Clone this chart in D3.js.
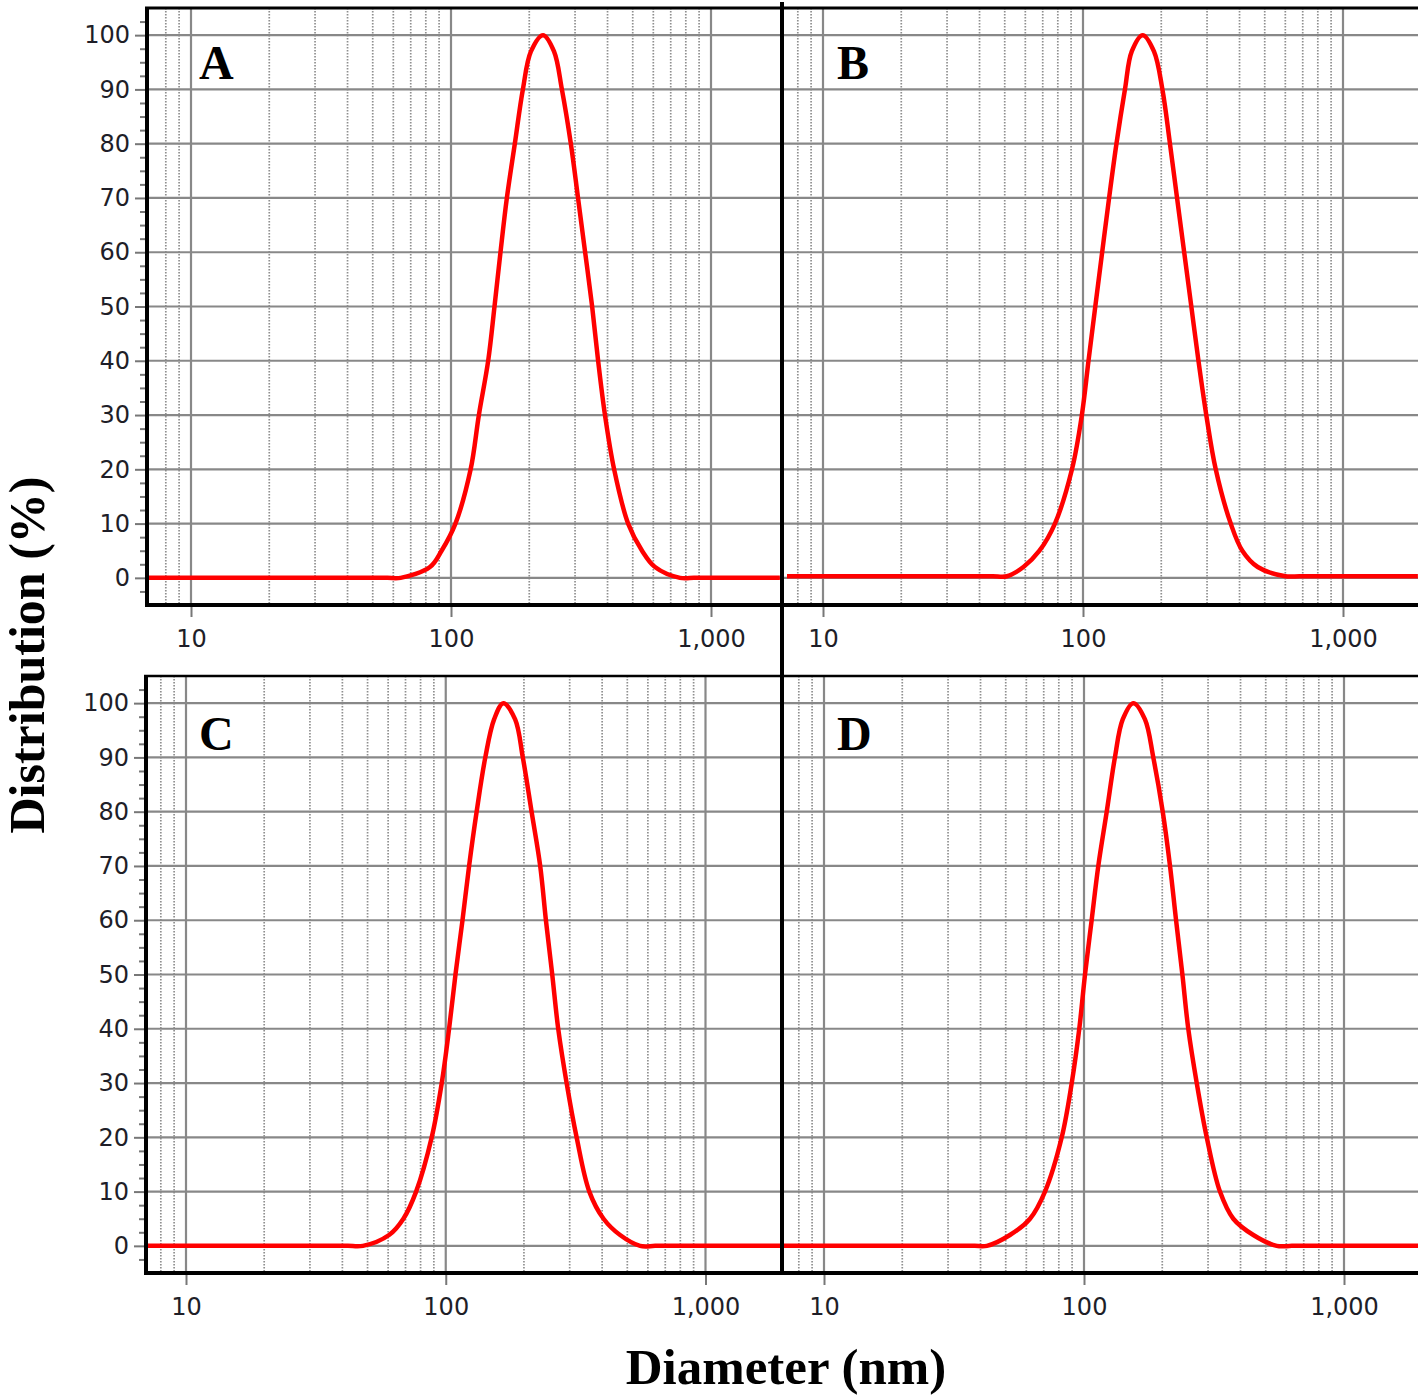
<!DOCTYPE html>
<html>
<head>
<meta charset="utf-8">
<script src="https://cdn.jsdelivr.net/npm/d3@7"></script>
<style>
  html, body { margin: 0; padding: 0; background: #fff; }
  svg { display: block; }
</style>
</head>
<body>
<svg id="chart" width="1418" height="1400"></svg>
<script>
// ---------------- DATA ----------------
const panelNames = ["A", "B", "C", "D"];

const diamA = [6.8, 12, 20, 30, 40, 50, 57, 64, 83, 92, 104, 119, 128, 139, 147, 155, 164, 176, 189, 203, 226, 249, 267, 289, 308, 328, 349, 368, 391, 424, 480, 543, 609, 760, 860, 980, 1150, 1400, 1840];
const distA = [0, 0, 0, 0, 0, 0, 0, 0, 2, 5, 10, 20, 30, 40, 50, 60, 70, 80, 90, 97, 100, 97, 90, 80, 70, 60, 50, 40, 30, 20, 10, 5, 2, 0, 0, 0, 0, 0, 0];

const diamB = [7.27, 12, 20, 30, 38, 45, 51, 59, 68, 78, 90.7, 99, 105, 111.5, 118.5, 126, 134.5, 145, 154, 169.7, 187.5, 202, 216, 230, 245, 261, 278, 298, 324, 370, 410, 470, 600, 680, 780, 950, 1250, 1941];
const distB = [0.3, 0.3, 0.3, 0.3, 0.3, 0.3, 0.3, 2, 5, 10, 20, 30, 40, 50, 60, 70, 80, 90, 97, 100, 97, 90, 80, 70, 60, 50, 40, 30, 20, 10, 5, 2, 0.3, 0.3, 0.3, 0.3, 0.3, 0.3];

const diamC = [7.08, 12, 20, 28, 36, 42, 48, 60.5, 68.7, 76.9, 88.3, 96.5, 103, 109, 116, 123, 131.5, 142, 153.5, 166.7, 185, 198, 214, 231, 243, 257, 271, 292, 319, 357, 405, 469, 560, 640, 740, 900, 1200, 1937];
const distC = [0, 0, 0, 0, 0, 0, 0, 2, 5, 10, 20, 30, 40, 50, 60, 70, 80, 90, 97, 100, 97, 90, 80, 70, 60, 50, 40, 30, 20, 10, 5, 2, 0, 0, 0, 0, 0, 0];

const diamD = [6.95, 12, 18, 25, 32, 38, 42.3, 51.9, 62, 70.8, 82.1, 89.7, 95.9, 100.9, 107, 113.5, 122.3, 131.5, 140.9, 154.8, 171.6, 184.7, 200.8, 214.2, 226, 239, 251.8, 271.4, 296.5, 333.4, 375.2, 448, 551, 630, 730, 880, 1150, 1928];
const distD = [0, 0, 0, 0, 0, 0, 0, 2, 5, 10, 20, 30, 40, 50, 60, 70, 80, 90, 97, 100, 97, 90, 80, 70, 60, 50, 40, 30, 20, 10, 5, 2, 0, 0, 0, 0, 0, 0];

const yTicks = [0, 10, 20, 30, 40, 50, 60, 70, 80, 90, 100];
const yMinorTicks = [-2.5, 2.5, 5, 7.5, 12.5, 15, 17.5, 22.5, 25, 27.5, 32.5, 35, 37.5, 42.5, 45, 47.5, 52.5, 55, 57.5, 62.5, 65, 67.5, 72.5, 75, 77.5, 82.5, 85, 87.5, 92.5, 95, 97.5, 102.5];
const xTicks = [10, 100, 1000];
const xTickLabels = ["10", "100", "1,000"];
const xMinorGrid = [8, 9, 20, 30, 40, 50, 60, 70, 80, 90, 200, 300, 400, 500, 600, 700, 800, 900];
const yTitle = "Distribution (%)";
const xTitle = "Diameter (nm)";

// ---------------- LAYOUT ----------------
const series = { A: [diamA, distA], B: [diamB, distB], C: [diamC, distC], D: [diamD, distD] };
const layout = {
  A: { x0: 147, x1: 780, y0: 8,   y1: 605,  x10: 191, x1000: 711,   yAxis: true,  lx: 199, ly: 79 },
  B: { x0: 783, x1: 1418, y0: 8,  y1: 605,  x10: 823, x1000: 1343,  yAxis: false, lx: 837, ly: 79 },
  C: { x0: 146, x1: 780, y0: 676, y1: 1273, x10: 186, x1000: 705.5, yAxis: true,  lx: 199, ly: 750 },
  D: { x0: 783, x1: 1418, y0: 676, y1: 1273, x10: 824, x1000: 1344, yAxis: false, lx: 837, ly: 750 }
};

const svg = d3.select("#chart");
const defs = svg.append("defs");
const gridColor = "#888";

panelNames.forEach(name => {
  const L = layout[name];
  const x = d3.scaleLog().domain([10, 1000]).range([L.x10, L.x1000]);
  const y = d3.scaleLinear().domain([-5, 105]).range([L.y1, L.y0]);
  const g = svg.append("g").attr("class", "panel-" + name);

  defs.append("clipPath").attr("id", "clip-" + name)
    .append("rect").attr("x", L.x0).attr("y", L.y0).attr("width", L.x1 - L.x0).attr("height", L.y1 - L.y0);

  // minor vertical grid (dotted)
  g.append("g").selectAll("line")
    .data(xMinorGrid.filter(v => x(v) > L.x0 + 5 && x(v) < L.x1 - 2))
    .join("line")
    .attr("x1", d => x(d)).attr("x2", d => x(d))
    .attr("y1", L.y0).attr("y2", L.y1)
    .attr("stroke", "#8f8f8f").attr("stroke-width", 1.7)
    .attr("stroke-dasharray", "1.5,1.5");

  // major vertical grid
  g.append("g").selectAll("line")
    .data(xTicks.filter(v => x(v) > L.x0 + 5 && x(v) < L.x1 - 2))
    .join("line")
    .attr("x1", d => x(d)).attr("x2", d => x(d))
    .attr("y1", L.y0).attr("y2", L.y1)
    .attr("stroke", gridColor).attr("stroke-width", 2.2);

  // horizontal grid
  g.append("g").selectAll("line")
    .data(yTicks)
    .join("line")
    .attr("x1", L.x0).attr("x2", L.x1)
    .attr("y1", d => y(d)).attr("y2", d => y(d))
    .attr("stroke", gridColor).attr("stroke-width", 2.2);

  // curve
  const [dx, dy] = series[name];
  const pts = dx.map((d, i) => [d, dy[i]]);
  const line = d3.line().x(d => x(d[0])).y(d => y(d[1])).curve(d3.curveCatmullRom.alpha(0.5));
  g.append("path")
    .datum(pts)
    .attr("clip-path", "url(#clip-" + name + ")")
    .attr("d", line)
    .attr("fill", "none")
    .attr("stroke", "#ff0000")
    .attr("stroke-width", 4.5)
    .attr("stroke-linejoin", "round");

  // y axis (labels + ticks)
  if (L.yAxis) {
    const ya = g.append("g").attr("transform", `translate(${L.x0},0)`)
      .call(d3.axisLeft(y).tickValues(yTicks).tickSize(12).tickPadding(5).tickFormat(d3.format("d")));
    ya.select(".domain").remove();
    ya.selectAll("line").attr("stroke", "#777").attr("stroke-width", 2);
    ya.selectAll("text").attr("font-family", "'DejaVu Sans', sans-serif").attr("font-size", 24).attr("fill", "#1e1e28");
    const ym = g.append("g").attr("transform", `translate(${L.x0},0)`)
      .call(d3.axisLeft(y).tickValues(yMinorTicks).tickSize(7).tickFormat(""));
    ym.select(".domain").remove();
    ym.selectAll("line").attr("stroke", "#777").attr("stroke-width", 2);
  }

  // x axis
  const xa = g.append("g").attr("transform", `translate(0,${L.y1})`)
    .call(d3.axisBottom(x).tickValues(xTicks).tickSize(12).tickPadding(13).tickFormat((d, i) => xTickLabels[i]));
  xa.select(".domain").remove();
  xa.selectAll("line").attr("stroke", "#777").attr("stroke-width", 2);
  xa.selectAll("text").attr("font-family", "'DejaVu Sans', sans-serif").attr("font-size", 24).attr("fill", "#1e1e28");

  // borders
  g.append("line").attr("x1", L.x0 - 2).attr("x2", L.x1 + 2).attr("y1", L.y0).attr("y2", L.y0)
    .attr("stroke", "#000").attr("stroke-width", name === "A" || name === "B" ? 3 : 2.5);
  g.append("line").attr("x1", L.x0 - 2).attr("x2", L.x1 + 2).attr("y1", L.y1).attr("y2", L.y1)
    .attr("stroke", "#000").attr("stroke-width", 4);
  if (L.yAxis) {
    g.append("line").attr("x1", L.x0).attr("x2", L.x0).attr("y1", L.y0 - 1).attr("y2", L.y1 + 2)
      .attr("stroke", "#000").attr("stroke-width", 4);
  }

  // panel letter
  g.append("text").attr("x", L.lx).attr("y", L.ly)
    .attr("font-family", "'Liberation Serif', 'Times New Roman', serif")
    .attr("font-weight", "bold").attr("font-size", 48).attr("fill", "#000")
    .text(name);
});

// central divider
svg.append("line").attr("x1", 782).attr("x2", 782).attr("y1", 2).attr("y2", 1275)
  .attr("stroke", "#000").attr("stroke-width", 4);

// axis titles
svg.append("text")
  .attr("transform", "translate(44,655) rotate(-90)")
  .attr("text-anchor", "middle")
  .attr("font-family", "'Liberation Serif', 'Times New Roman', serif")
  .attr("font-weight", "bold").attr("font-size", 50).attr("fill", "#000")
  .text(yTitle);

svg.append("text")
  .attr("x", 786).attr("y", 1384)
  .attr("text-anchor", "middle")
  .attr("font-family", "'Liberation Serif', 'Times New Roman', serif")
  .attr("font-weight", "bold").attr("font-size", 51).attr("fill", "#000")
  .text(xTitle);
</script>
</body>
</html>
